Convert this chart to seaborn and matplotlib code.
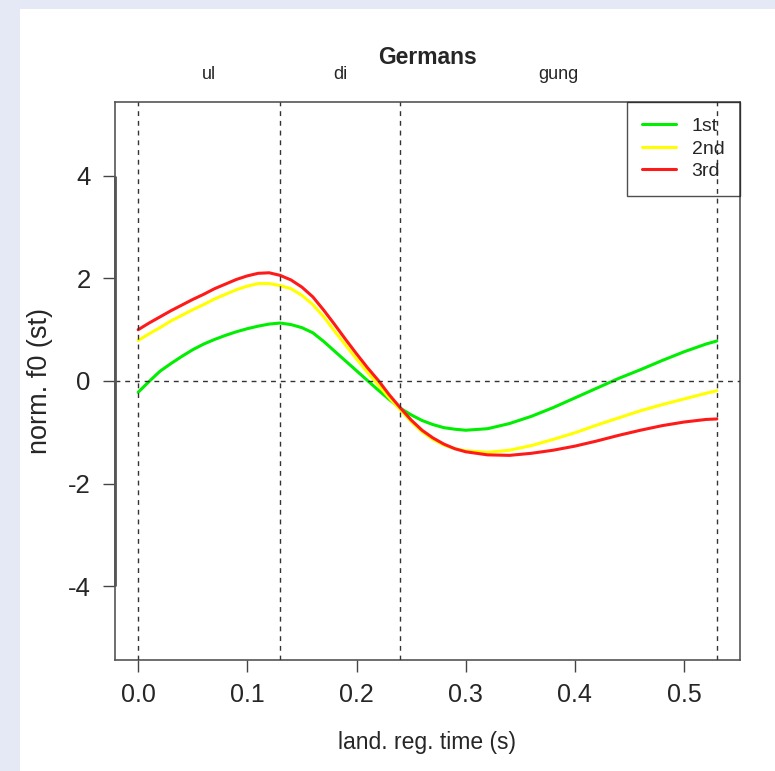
import pandas as pd
import seaborn as sns
import matplotlib.pyplot as plt
from matplotlib.patches import Rectangle

# landmark registered time (s)
time_s = [0.00, 0.01, 0.02, 0.03, 0.04, 0.05, 0.06, 0.07, 0.08, 0.09,
          0.10, 0.11, 0.12, 0.13, 0.14, 0.15, 0.16, 0.17, 0.18, 0.19,
          0.20, 0.21, 0.22, 0.23, 0.24, 0.25, 0.26, 0.27, 0.28, 0.29,
          0.30, 0.32, 0.34, 0.36, 0.38, 0.40, 0.42, 0.44, 0.46, 0.48,
          0.50, 0.52, 0.53]

# normalised f0 (st) per repetition
first = [-0.22, -0.01, 0.19, 0.34, 0.48, 0.61, 0.72, 0.81, 0.89, 0.96,
         1.02, 1.07, 1.11, 1.13, 1.10, 1.04, 0.94, 0.77, 0.58, 0.39,
         0.20, 0.01, -0.18, -0.36, -0.53, -0.66, -0.77, -0.85, -0.91, -0.94,
         -0.96, -0.93, -0.83, -0.69, -0.52, -0.33, -0.14, 0.05, 0.22, 0.40,
         0.57, 0.72, 0.78]
second = [0.79, 0.92, 1.04, 1.17, 1.28, 1.39, 1.49, 1.60, 1.69, 1.78,
          1.85, 1.90, 1.90, 1.86, 1.80, 1.67, 1.49, 1.25, 0.97, 0.70,
          0.43, 0.17, -0.08, -0.33, -0.56, -0.79, -0.99, -1.14, -1.25, -1.32,
          -1.36, -1.39, -1.35, -1.26, -1.14, -1.01, -0.86, -0.72, -0.58, -0.46,
          -0.35, -0.24, -0.19]
third = [1.00, 1.13, 1.25, 1.37, 1.48, 1.59, 1.69, 1.80, 1.89, 1.98,
         2.05, 2.10, 2.11, 2.06, 1.97, 1.83, 1.64, 1.38, 1.10, 0.81,
         0.53, 0.26, 0.01, -0.27, -0.52, -0.76, -0.96, -1.11, -1.23, -1.32,
         -1.38, -1.44, -1.45, -1.41, -1.35, -1.27, -1.17, -1.06, -0.96, -0.87,
         -0.80, -0.75, -0.74]

order_labels = ['1st', '2nd', '3rd']
line_colors = ['#00ee00', '#ffff00', '#ff1a1a']

boundaries = [0.0, 0.13, 0.24, 0.53]
syllables = ['ul', 'di', 'gung']
x_ticks = [0.0, 0.1, 0.2, 0.3, 0.4, 0.5]
y_ticks = [-4, -2, 0, 2, 4]

n = len(time_s)
df = pd.DataFrame({
    'time': time_s * 3,
    'f0': first + second + third,
    'order': [order_labels[0]] * n + [order_labels[1]] * n + [order_labels[2]] * n,
})

sns.set_style('ticks')
plt.rcParams['font.family'] = ['Liberation Sans', 'DejaVu Sans']

fig = plt.figure(figsize=(7.75, 7.71), dpi=100)
fig.patch.set_facecolor('#e5e9f5')
fig.add_artist(Rectangle((20 / 775, 0), 1, (771 - 9) / 771, transform=fig.transFigure,
                         facecolor='white', edgecolor='none', zorder=0))

ax = fig.add_axes([115 / 775, 111 / 771, 625 / 775, 558 / 771])
ax.set_facecolor('white')

sns.lineplot(data=df, x='time', y='f0', hue='order', hue_order=order_labels,
             palette=dict(zip(order_labels, line_colors)), linewidth=2.2,
             sort=False, ax=ax, zorder=2)

dash = (0, (3.5, 3.5))
ax.axhline(0, color='#333333', lw=1, ls=dash, zorder=3)
for b in boundaries:
    ax.axvline(b, color='#333333', lw=1, ls=dash, zorder=3)

ax.set_xlim(-0.0212, 0.5512)
ax.set_ylim(-5.44, 5.44)
ax.set_xticks(x_ticks)
ax.set_xticklabels([f'{v:.1f}' for v in x_ticks], fontsize=18)
ax.set_yticks(y_ticks)
ax.set_yticklabels([str(v) for v in y_ticks], fontsize=18.5)
ax.tick_params(axis='both', direction='out', length=8.5, width=1, color='#444444')
ax.tick_params(axis='x', pad=8)
ax.tick_params(axis='y', pad=9)

for s in ax.spines.values():
    s.set_color('#555555')
    s.set_linewidth(1.2)
ax.vlines(ax.get_xlim()[0], -4, 4, color='#555555', lw=2, clip_on=False, zorder=5)

ax.set_xlabel('land. reg. time (s)', fontsize=16.5, labelpad=17)
ax.set_ylabel('norm. f0 (st)', fontsize=19.5, labelpad=11)
ax.set_title('Germans', fontweight='bold', fontsize=16.5, pad=27)

for i, syl in enumerate(syllables):
    mid = (boundaries[i] + boundaries[i + 1]) / 2
    ax.text(mid, 1.05, syl, transform=ax.get_xaxis_transform(),
            ha='center', va='center', fontsize=13)

handles, labels = ax.get_legend_handles_labels()
leg = ax.legend(handles, labels, loc='upper right', bbox_to_anchor=(1, 1),
                borderaxespad=0, fontsize=14, frameon=True, fancybox=False,
                facecolor='none', edgecolor='#222222', handlelength=1.75,
                handletextpad=0.8, labelspacing=0.25, borderpad=0.8)
leg.get_frame().set_linewidth(1)

fig.savefig('out.png', dpi=100, facecolor=fig.get_facecolor())
